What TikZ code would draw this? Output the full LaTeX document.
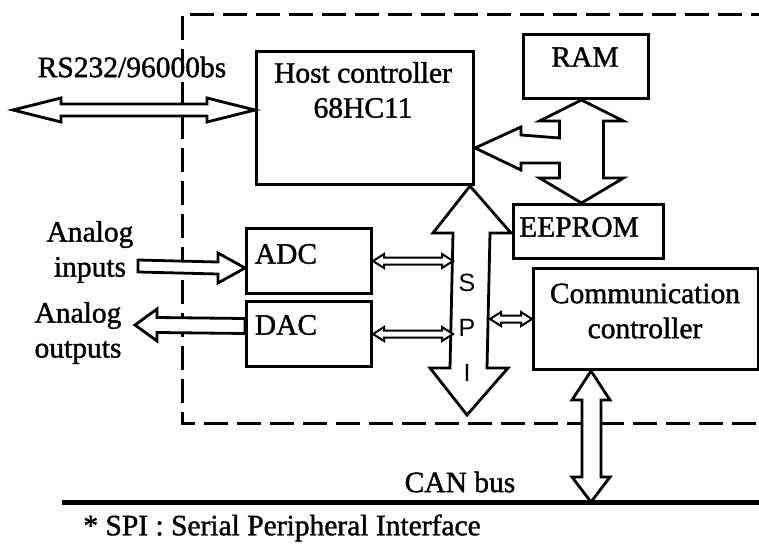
\documentclass[tikz,border=0pt]{standalone}
\usepackage{fontspec}
\setmainfont{Liberation Serif}[FakeBold=1.3]
\newfontfamily\spifont{Liberation Sans}
\usetikzlibrary{calc}
\newcommand{\hdbl}[6]{% style, left, right, shaft half, head half, head length
  \draw[#1] let \p1=(#2), \p2=(#3) in
    (\x1,\y1) -- (\x1+#6,\y1+#5) -- (\x1+#6,\y1+#4) -- (\x2-#6,\y1+#4) -- (\x2-#6,\y1+#5) --
    (\x2,\y1) -- (\x2-#6,\y1-#5) -- (\x2-#6,\y1-#4) -- (\x1+#6,\y1-#4) -- (\x1+#6,\y1-#5) -- cycle;}
\begin{document}
\begin{tikzpicture}[x=1pt,y=-1pt,
  box/.style={draw,line width=3pt,rectangle,anchor=north west,inner sep=0pt},
  txt/.style={inner sep=0pt,font=\fontsize{29.5}{35}\selectfont,align=center},
  spil/.style={inner sep=0pt,font=\spifont\fontsize{25}{28}\selectfont},
  fat/.style={draw,line width=2.8pt,fill=white,line join=miter},
  thinarr/.style={draw,line width=2pt,fill=white},
  frame/.style={line width=3pt,dash pattern=on 24pt off 9pt}]
\useasboundingbox (0,0) rectangle (759,548);
\fill[white] (0,0) rectangle (759,548);
\clip (0,0) rectangle (759,548);

% dashed module frame
\draw[frame] (775,15) -- (182,15) -- (182,423) -- (775,423);

% boxes
\node[box,minimum width=217pt,minimum height=133pt] (host) at (255,50) {};
\node[box,minimum width=125pt,minimum height=64pt] (ram) at (522,33) {};
\node[box,minimum width=150pt,minimum height=54pt] (eeprom) at (512,203) {};
\node[box,minimum width=125pt,minimum height=65pt] (adc) at (245,227) {};
\node[box,minimum width=125pt,minimum height=65pt] (dac) at (245,300) {};
\node[box,minimum width=225pt,minimum height=101pt] (comm) at (532,267) {};

% texts
\node[txt] (hostt) at (363,90) {Host controller\\68HC11};
\node[txt] (ramt) at (585,57) {RAM};
\node[txt] (eet) at (579,227) {EEPROM};
\node[txt] (adct) at (286,254) {ADC};
\node[txt] (dact) at (286,325) {DAC};
\node[txt] (commt) at (645,311) {Communication\\controller};
\node[txt] (rst) at (132,67) {RS232/96000bs};
\node[txt] (ain) at (90,252) {Analog\\inputs};
\node[txt] (aout) at (78,333) {Analog\\outputs};
\node[txt] (cant) at (460,482) {CAN bus};
\node[txt] (note) at (282,528) {* SPI : Serial Peripheral Interface};

% coordinates
\coordinate (spitop) at ($(host.south east)+(-5,0)$);
\coordinate (spibot) at (467,415);
\coordinate (spiL) at ($(spitop)+(-17,0)$);
\coordinate (spiR) at ($(spitop)+(20,0)$);
\coordinate (mt) at ($(ram.south)+(-4.5,0)$);
\coordinate (mb) at (mt |- eeprom.north);
\coordinate (mh) at ($(host.north east)+(0,98)$);
\coordinate (canL) at (62,502);
\coordinate (canR) at (770,502);
\coordinate (cc) at ($(comm.south west)+(59,0)$);
\coordinate (cb) at (cc |- canL);
\coordinate (rsL) at (13,110);
\coordinate (ainL) at (138,266);
\coordinate (ainR) at ($(adc.west)+(0,7)$);
\coordinate (aoutR) at ($(dac.west)+(0,-8)$);
\coordinate (aoutL) at (135,325);

% CAN bus
\draw[line width=5pt] (canL) -- (canR);

% SPI bus arrow
\draw[fat] (spitop) -- ($(spitop)+(41,47)$) -- ($(spitop)+(20,47)$) -- ($(spibot)+(20,-47)$)
  -- ($(spibot)+(41,-47)$) -- (spibot) -- ($(spibot)+(-37,-47)$) -- ($(spibot)+(-17,-47)$)
  -- ($(spitop)+(-17,47)$) -- ($(spitop)+(-37,47)$) -- cycle;
\node[spil] (s1) at (467,283) {S};
\node[spil] (s2) at (467,328) {P};
\node[spil] (s3) at (467,373) {I};

% memory bus arrow (RAM <-> EEPROM, to host)
\draw[fat] (mt) -- ($(mt)+(42,21)$) -- ($(mt)+(22,21)$) -- ($(mb)+(22,-25)$) -- ($(mb)+(42,-25)$)
  -- (mb) -- ($(mb)+(-42,-25)$) -- ($(mb)+(-22,-25)$) -- ($(mb)+(-22,-40)$)
  -- ($(mh)+(46,15)$) -- ($(mh)+(46,22)$) -- (mh) -- ($(mh)+(46,-21)$) -- ($(mh)+(46,-13)$)
  -- ($(mt)+(-22,38)$) -- ($(mt)+(-22,21)$) -- ($(mt)+(-42,21)$) -- cycle;

% comm <-> CAN bus
\draw[fat] (cc) -- ($(cc)+(19,29)$) -- ($(cc)+(10,29)$) -- ($(cb)+(10,-25)$) -- ($(cb)+(19,-25)$)
  -- (cb) -- ($(cb)+(-19,-25)$) -- ($(cb)+(-9,-25)$) -- ($(cc)+(-9,29)$) -- ($(cc)+(-19,29)$) -- cycle;

% RS232 link
\hdbl{fat}{rsL}{host.west |- rsL}{6pt}{12pt}{48pt}

% small SPI links
\hdbl{thinarr}{adc.east}{adc.east -| spiL}{3.5pt}{7pt}{11pt}
\hdbl{thinarr}{dac.east}{dac.east -| spiL}{3.5pt}{7pt}{11pt}
\hdbl{thinarr}{spiR |- comm.west}{comm.west}{3.5pt}{7pt}{11pt}

% analog input
\draw[fat] (ainL) -- ($(ainL)+(0,-6)$) -- ($(ainR)+(-27,-6)$) -- ($(ainR)+(-27,-15)$) -- (ainR)
  -- ($(ainR)+(-27,15)$) -- ($(ainR)+(-27,6)$) -- ($(ainL)+(0,6)$) -- cycle;
% analog output
\draw[fat] (aoutR) -- ($(aoutR)+(0,-7.5)$) -- ($(aoutL)+(22,-7.5)$) -- ($(aoutL)+(22,-16)$) -- (aoutL)
  -- ($(aoutL)+(22,16)$) -- ($(aoutL)+(22,7.5)$) -- ($(aoutR)+(0,7.5)$) -- cycle;
\end{tikzpicture}
\end{document}
